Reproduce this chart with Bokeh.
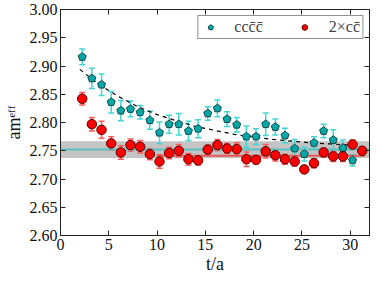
import numpy as np
from bokeh.plotting import figure
from bokeh.models import (ColumnDataSource, Whisker, TeeHead, BoxAnnotation, LinearAxis,
                          Legend, LegendItem, FixedTicker, Range1d, PrintfTickFormatter)
from bokeh.embed import file_html
from bokeh.resources import INLINE

# ---- data ----
t_cccc = list(range(2, 31))
m_cccc = [2.916, 2.878, 2.867, 2.836, 2.821, 2.824, 2.818, 2.804, 2.782, 2.797,
          2.797, 2.785, 2.789, 2.816, 2.825, 2.806, 2.796, 2.775, 2.775, 2.797,
          2.792, 2.777, 2.754, 2.744, 2.764, 2.785, 2.769, 2.755, 2.733]
e_cccc = [0.014, 0.018, 0.019, 0.019, 0.018, 0.014, 0.012, 0.016, 0.019, 0.016,
          0.019, 0.017, 0.016, 0.012, 0.015, 0.013, 0.013, 0.019, 0.014, 0.020,
          0.014, 0.013, 0.016, 0.012, 0.011, 0.012, 0.018, 0.014, 0.010]

t_2cc = list(range(2, 32))
m_2cc = [2.842, 2.797, 2.787, 2.763, 2.747, 2.760, 2.757, 2.744, 2.731, 2.746,
         2.750, 2.735, 2.733, 2.752, 2.760, 2.754, 2.753, 2.735, 2.734, 2.749,
         2.742, 2.735, 2.731, 2.717, 2.728, 2.747, 2.740, 2.740, 2.761, 2.750]
e_2cc = [0.011, 0.012, 0.015, 0.012, 0.012, 0.011, 0.011, 0.010, 0.012, 0.010,
         0.011, 0.010, 0.008, 0.008, 0.010, 0.009, 0.011, 0.013, 0.007, 0.012,
         0.010, 0.009, 0.008, 0.006, 0.008, 0.008, 0.009, 0.009, 0.008, 0.007]

x_offset = 0.25

fit_t = [2, 4, 6, 8, 10, 12, 14, 16, 18, 20, 22, 24, 26, 28, 30]
fit_m = [2.894, 2.867, 2.846, 2.828, 2.814, 2.803, 2.793, 2.786, 2.779, 2.774,
         2.770, 2.767, 2.764, 2.762, 2.760]

plateau_cccc = 2.752
band_lo, band_hi = 2.737, 2.767
plateau_2cc = 2.741
plateau_2cc_range = [10, 31.5]

x_ticks = [0, 5, 10, 15, 20, 25, 30]
y_ticks = [2.60, 2.65, 2.70, 2.75, 2.80, 2.85, 2.90, 2.95, 3.00]

FONT = "'Liberation Serif', 'Times New Roman', serif"

p = figure(width=372, height=276, output_backend="svg", toolbar_location=None,
           x_range=Range1d(0, 32), y_range=Range1d(2.60, 3.00),
           min_border_left=50, min_border_right=3, min_border_top=9, min_border_bottom=33)
p.grid.visible = False
p.outline_line_color = "#222222"
p.background_fill_color = "white"
p.border_fill_color = "white"

for ax in [p.xaxis[0], p.yaxis[0]]:
    ax.major_tick_in = 5
    ax.major_tick_out = 0
    ax.minor_tick_in = 0
    ax.minor_tick_out = 0
    ax.axis_line_color = "#222222"
    ax.major_tick_line_color = "#222222"
    ax.major_label_text_font = FONT
    ax.major_label_text_font_size = "16px"
    ax.major_label_text_color = "#111111"
    ax.axis_label_text_font = FONT
    ax.axis_label_text_font_size = "18px"
    ax.axis_label_text_font_style = "normal"
    ax.axis_label_text_color = "#111111"
p.xaxis[0].ticker = FixedTicker(ticks=x_ticks)
p.yaxis[0].ticker = FixedTicker(ticks=y_ticks)
p.yaxis[0].formatter = PrintfTickFormatter(format="%.2f")
p.xaxis[0].axis_label = "t/a"
p.yaxis[0].axis_label = "amᵉᶠᶠ"
p.xaxis[0].major_label_standoff = 3
p.yaxis[0].major_label_standoff = 3
p.xaxis[0].axis_label_standoff = 1
p.yaxis[0].axis_label_standoff = 3

top_ax = LinearAxis(ticker=FixedTicker(ticks=x_ticks), major_label_text_color=None,
                    major_tick_in=5, major_tick_out=0, minor_tick_in=0, minor_tick_out=0,
                    axis_line_color="#222222", major_tick_line_color="#222222")
right_ax = LinearAxis(ticker=FixedTicker(ticks=y_ticks), major_label_text_color=None,
                      major_tick_in=5, major_tick_out=0, minor_tick_in=0, minor_tick_out=0,
                      axis_line_color="#222222", major_tick_line_color="#222222")
p.add_layout(top_ax, "above")
p.add_layout(right_ax, "right")

# band and plateau lines
p.add_layout(BoxAnnotation(bottom=band_lo, top=band_hi, fill_color="#b0b0b0",
                           fill_alpha=0.75, line_color=None, level="underlay"))
p.line(x=[0, 32], y=[plateau_cccc, plateau_cccc], line_color="#5cc0c0", line_width=2)
p.line(x=plateau_2cc_range, y=[plateau_2cc, plateau_2cc], line_color="#f04848",
       line_width=2, line_alpha=0.85)

# fit curve
p.line(x=fit_t, y=fit_m, line_color="black", line_dash="4 4", line_width=1.2)

# error bars
xc = [t + x_offset for t in t_cccc]
xr = [t + x_offset for t in t_2cc]
src_c = ColumnDataSource(dict(x=xc, y=m_cccc,
                              lo=[m - e for m, e in zip(m_cccc, e_cccc)],
                              hi=[m + e for m, e in zip(m_cccc, e_cccc)]))
src_r = ColumnDataSource(dict(x=xr, y=m_2cc,
                              lo=[m - e for m, e in zip(m_2cc, e_2cc)],
                              hi=[m + e for m, e in zip(m_2cc, e_2cc)]))

for src, col in [(src_c, "#44d4d4"), (src_r, "#ff5a5a")]:
    w = Whisker(source=src, base="x", lower="lo", upper="hi", line_color=col,
                line_width=1.5,
                upper_head=TeeHead(size=6, line_color=col, line_width=1.5),
                lower_head=TeeHead(size=6, line_color=col, line_width=1.5))
    p.add_layout(w)

# markers
if hasattr(p, "ngon"):
    rc = p.ngon(x="x", y="y", radius=4.2, n=5, radius_units="screen", source=src_c,
                fill_color="#00a8a8", line_color="#124848", line_width=1)
else:
    rc = p.scatter(x="x", y="y", size=9, marker="hex", source=src_c,
                   fill_color="#00a8a8", line_color="#124848", line_width=1)
rr = p.scatter(x="x", y="y", size=9.5, marker="circle", source=src_r,
               fill_color="#ff0000", line_color="#5a0000", line_width=1)

legend = Legend(items=[LegendItem(label="ccc̄c̄", renderers=[rc]),
                       LegendItem(label="2×cc̄", renderers=[rr])],
                orientation="horizontal", location="top_right",
                label_text_font=FONT, label_text_font_size="16px",
                border_line_color="#222222", border_line_width=1,
                background_fill_alpha=1, margin=6, padding=2, spacing=32,
                glyph_width=20, glyph_height=14, label_standoff=14,
                label_height=14)
p.add_layout(legend)

open("out.html", "w").write(file_html(p, INLINE))
